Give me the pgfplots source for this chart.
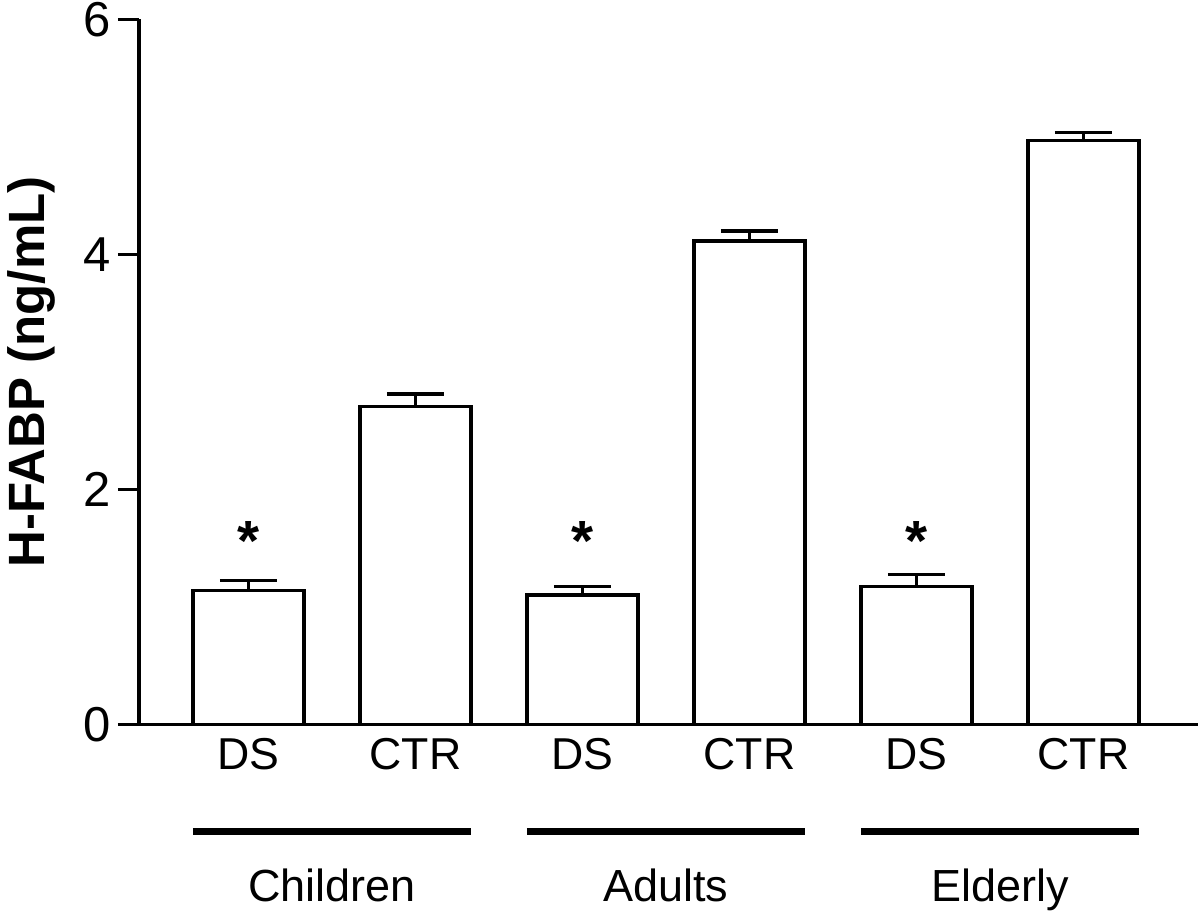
\documentclass[border=0pt]{standalone}
\usepackage{fontspec}
\setmainfont{Liberation Sans}
\usepackage{pgfplots}
\pgfplotsset{compat=1.18}

\begin{document}
\begin{tikzpicture}
\begin{axis}[
  at={(0pt,0pt)}, anchor=south west,
  scale only axis,
  width=317.7pt, height=211.5pt,
  xmin=0.3443, xmax=6.686,
  ymin=0, ymax=6,
  axis x line*=bottom, axis y line*=left,
  axis line style={line width=1pt, -},
  ytick={0,2,4,6},
  xtick={1,2,3,4,5,6},
  xticklabels={DS,CTR,DS,CTR,DS,CTR},
  x tick style={draw=none},
  major tick length=6.3pt,
  tick align=outside,
  y tick style={line width=1pt, black},
  yticklabel style={font=\fontsize{14.7}{16}\selectfont, xshift=1.5pt},
  xticklabel style={font=\fontsize{13.4}{16}\selectfont, anchor=base, yshift=-7.4pt},
  /pgf/number format/assume math mode=true,
  ylabel={H-FABP (ng/mL)},
  ylabel style={font=\fontsize{15.3}{18}\selectfont\bfseries, at={(axis description cs:-0.0888,0.5)}, anchor=base},
  clip=false,
]
\addplot[ybar, bar width=33.3pt, fill=white, draw=black, line width=1pt,
  error bars/.cd, y dir=plus, y explicit,
  error bar style={line width=1pt, black},
  error mark options={rotate=90, mark size=8.55pt, line width=1pt, black}]
 table[x=x, y=y, y error=e] {
 x y e
 1 1.137 0.089
 2 2.703 0.108
 3 1.100 0.071
 4 4.113 0.085
 5 1.171 0.102
 6 4.967 0.068
 };
\draw[line width=1pt] (axis cs:0.3443,0) -- ++(-6.3pt,0pt);
\node[anchor=base, font=\fontsize{17}{18}\selectfont\bfseries, inner sep=0pt] at (axis cs:1,1.39) {*};
\node[anchor=base, font=\fontsize{17}{18}\selectfont\bfseries, inner sep=0pt] at (axis cs:3,1.39) {*};
\node[anchor=base, font=\fontsize{17}{18}\selectfont\bfseries, inner sep=0pt] at (axis cs:5,1.39) {*};
\draw[line width=2pt] (axis cs:0.667,-0.914) -- (axis cs:2.333,-0.914);
\draw[line width=2pt] (axis cs:2.667,-0.914) -- (axis cs:4.333,-0.914);
\draw[line width=2pt] (axis cs:4.667,-0.914) -- (axis cs:6.333,-0.914);
\node[anchor=base, font=\fontsize{13.5}{16}\selectfont, inner sep=0pt] at (axis cs:1.5,-1.51) {Children};
\node[anchor=base, font=\fontsize{13.5}{16}\selectfont, inner sep=0pt] at (axis cs:3.5,-1.51) {Adults};
\node[anchor=base, font=\fontsize{13.5}{16}\selectfont, inner sep=0pt] at (axis cs:5.5,-1.51) {Elderly};
\end{axis}
\pgfresetboundingbox
\path (-41.7pt,-56.61pt) rectangle (318.3pt,217.29pt);
\end{tikzpicture}
\end{document}
